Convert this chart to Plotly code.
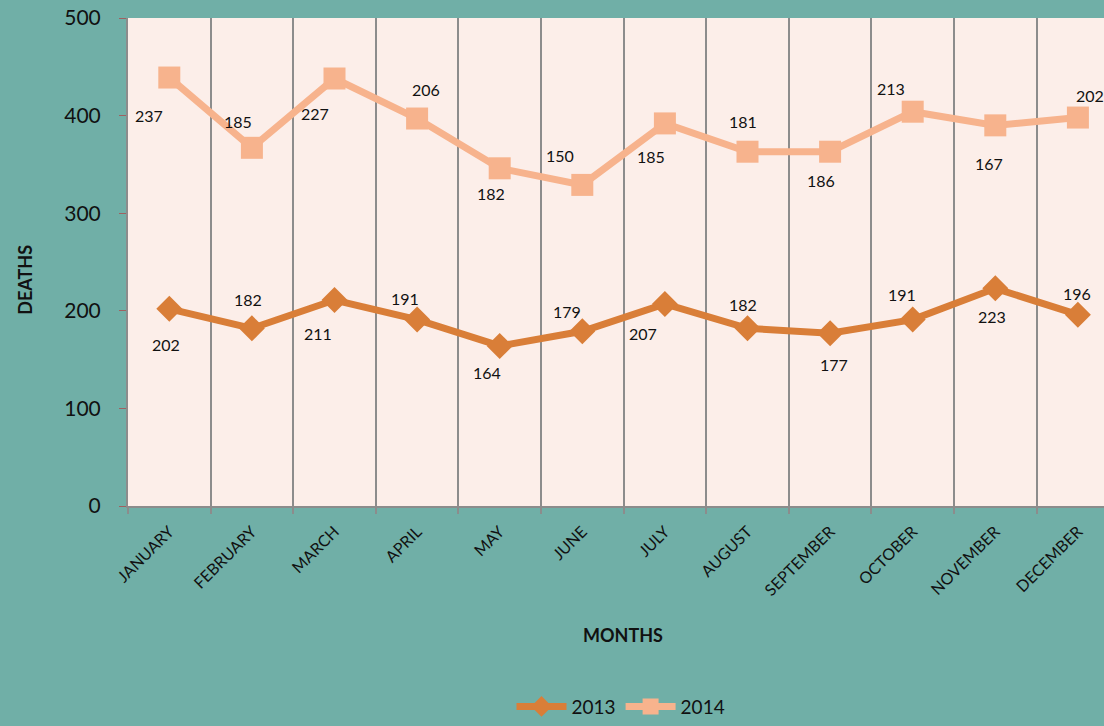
import plotly.graph_objects as go

months = ["JANUARY", "FEBRUARY", "MARCH", "APRIL", "MAY", "JUNE", "JULY",
          "AUGUST", "SEPTEMBER", "OCTOBER", "NOVEMBER", "DECEMBER"]
deaths_2013 = [202, 182, 211, 191, 164, 179, 207, 182, 177, 191, 223, 196]
deaths_2014 = [237, 185, 227, 206, 182, 150, 185, 181, 186, 213, 167, 202]
y_ticks = [0, 100, 200, 300, 400, 500]

# label offsets (pixels) - styling only
off_2013 = [(-3, 36), (-4, -29), (-17, 33), (-12, -21), (-13, 27), (-15, -20),
            (-22, 30), (-5, -24), (4, 31), (-11, -25), (-3, 28), (-1, -21)]
off_2014 = [(-20, 38), (-14, -26), (-20, 35), (9, -29), (-9, 25), (-22, -29),
            (-14, 33), (-5, -30), (-9, 29), (-22, -23), (-6, 38), (12, -22)]

C2013 = "#D97E38"
C2014 = "#F7B38D"
FONT = "Lato"

stacked_2014 = [a + b for a, b in zip(deaths_2013, deaths_2014)]

fig = go.Figure()
fig.add_trace(go.Scatter(
    x=months, y=deaths_2013, name="2013", mode="lines+markers",
    line=dict(color=C2013, width=7),
    marker=dict(symbol="diamond", size=20, color=C2013),
    cliponaxis=False,
))
fig.add_trace(go.Scatter(
    x=months, y=stacked_2014, name="2014", mode="lines+markers",
    line=dict(color=C2014, width=7),
    marker=dict(symbol="square", size=22, color=C2014),
    cliponaxis=False,
))

annotations = []
for m, v, lab, (dx, dy) in zip(months, deaths_2013, deaths_2013, off_2013):
    annotations.append(dict(x=m, y=v, text=str(lab), showarrow=False,
                            xshift=dx, yshift=-dy,
                            font=dict(family=FONT, size=16, color="#111")))
for m, v, lab, (dx, dy) in zip(months, stacked_2014, deaths_2014, off_2014):
    annotations.append(dict(x=m, y=v, text=str(lab), showarrow=False,
                            xshift=dx, yshift=-dy,
                            font=dict(family=FONT, size=16, color="#111")))

H = 726
T, B = 18, 214
ph = H - T - B
annotations.append(dict(xref="paper", yref="paper", x=(623 - 128) / 976,
                        y=(H - B - 643) / ph, xanchor="center", yanchor="middle",
                        text="<b>MONTHS</b>", showarrow=False,
                        font=dict(family=FONT, size=18, color="#111")))
annotations.append(dict(xref="paper", yref="paper", x=(25 - 128) / 976,
                        y=(H - B - 283) / ph, xanchor="center", yanchor="middle",
                        text="<b>DEATHS</b>", showarrow=False,
                        textangle=-90,
                        font=dict(family=FONT, size=18, color="#111")))

fig.update_layout(
    width=1104, height=H,
    margin=dict(l=128, r=0, t=T, b=B),
    paper_bgcolor="#70AFA7",
    plot_bgcolor="#FCEEE9",
    font=dict(family=FONT, color="#111"),
    showlegend=True,
    legend=dict(orientation="h", x=(621 - 128) / 976, xanchor="center",
                y=(H - B - 715) / ph, yanchor="middle",
                font=dict(family=FONT, size=19), bgcolor="rgba(0,0,0,0)",
                itemwidth=50),
    annotations=annotations,
    xaxis=dict(
        type="category", range=[-0.5, 11.316],
        tickson="boundaries", showgrid=True, gridcolor="#8C8C8C", gridwidth=1.5,
        showline=True, linecolor="#8C8C8C", linewidth=2,
        ticks="outside", ticklen=6, tickcolor="#8C8C8C", tickwidth=2,
        ticklabelstandoff=8,
        tickangle=-45, tickfont=dict(family=FONT, size=16, color="#111"),
        fixedrange=True,
    ),
    yaxis=dict(
        range=[0, 500], tickvals=y_ticks, showgrid=False, zeroline=False,
        showline=True, linecolor="#8C8C8C", linewidth=2,
        ticks="outside", ticklen=7, tickcolor="#A06060", tickwidth=1,
        ticklabelstandoff=14,
        tickfont=dict(family=FONT, size=21, color="#111"),
    ),
)

post = ("document.body.style.margin='0';document.body.style.padding='0';"
        "document.body.style.overflow='hidden';"
        "document.documentElement.style.overflow='hidden';"
        "document.body.style.background='#70AFA7';")
fig.write_html("out.html", post_script=post, config={"displayModeBar": False})
